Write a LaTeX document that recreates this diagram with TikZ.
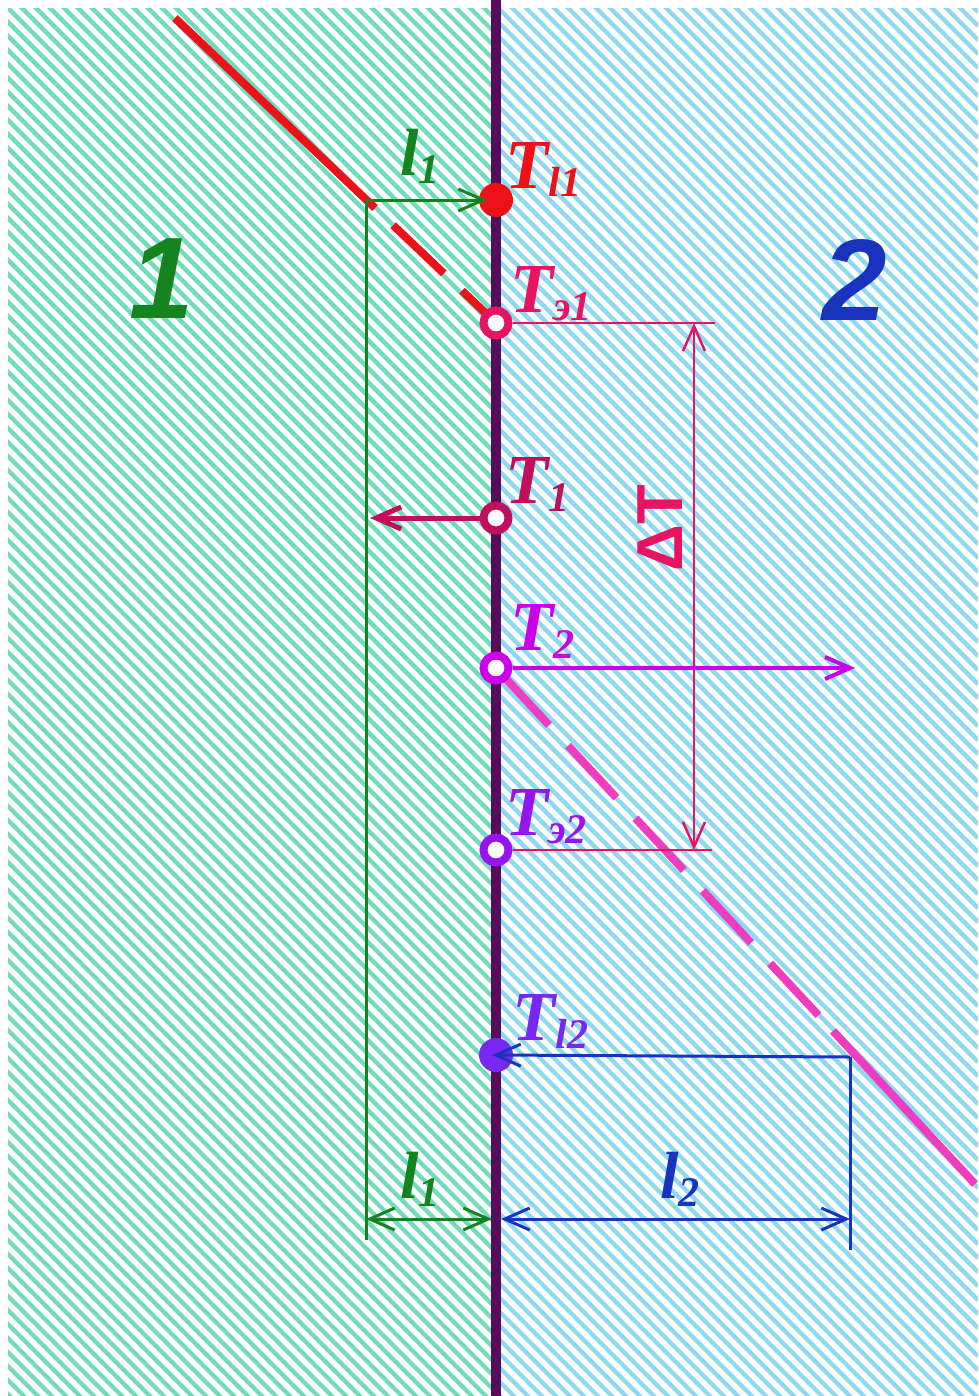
\documentclass[tikz,border=0pt]{standalone}
\usepackage{fontspec}
\setmainfont{Liberation Serif}
\newfontfamily\labsans{Liberation Sans}
\usetikzlibrary{arrows.meta}

\definecolor{hatchgreen}{RGB}{112,220,188}
\definecolor{hatchblue}{RGB}{142,216,242}
\definecolor{wallpurple}{RGB}{88,12,92}
\definecolor{tempred}{RGB}{236,18,24}
\definecolor{tempcrimson}{RGB}{232,20,98}
\definecolor{tempmaroon}{RGB}{192,16,92}
\definecolor{tempviolet}{RGB}{204,0,232}
\definecolor{tempindigo}{RGB}{150,20,238}
\definecolor{tempblue}{RGB}{120,40,240}
\definecolor{magline}{RGB}{240,60,190}
\definecolor{dimgreen}{RGB}{22,132,30}
\definecolor{dimblue}{RGB}{24,52,190}

\newcommand{\lsub}[1]{\raisebox{-0.12em}{\fontsize{24}{24}\selectfont #1}}

\pgfdeclarelayer{zones}
\pgfdeclarelayer{profiles}
\pgfsetlayers{zones,profiles,main}

\begin{document}
\begin{tikzpicture}[
    x=0.02cm, y=-0.02cm,
    >={Straight Barb[length=0.5cm,width=0.44cm]},
    hatch/.style={line width=0.085cm},
    wall/.style={wallpurple, line width=0.2cm},
    profile/.style={line width=0.16cm},
    dimline/.style={line width=0.06cm},
    thinline/.style={line width=0.05cm},
    heatflow/.style={line width=0.1cm},
    hollow/.style={circle, draw, fill=white, line width=0.16cm, minimum size=0.5cm, inner sep=0pt},
    spot/.style={circle, minimum size=0.68cm, inner sep=0pt},
    templab/.style={font=\fontsize{40}{40}\selectfont\bfseries\itshape, anchor=base west, inner sep=0pt},
    lenlab/.style={font=\fontsize{38}{38}\selectfont\bfseries\itshape, anchor=base west, inner sep=0pt},
    zonelab/.style={font=\labsans\fontsize{66}{66}\selectfont\bfseries\itshape, anchor=base, inner sep=0pt}
]
\useasboundingbox (0,0) rectangle (978,1396);

% two media
\begin{pgfonlayer}{zones}
\begin{scope}
  \clip (8,8) rectangle (496,1396);
  \foreach \k in {-36,...,100} \draw[hatch, hatchgreen] (0,14*\k) -- (496,496+14*\k);
\end{scope}
\begin{scope}
  \clip (496,8) rectangle (978,1396);
  \foreach \k in {-71,...,65} \draw[hatch, hatchblue] (496,496+14*\k) -- (978,978+14*\k);
\end{scope}
\coordinate (walltop) at (496,0);
\coordinate (wallbot) at (496,1396);
\draw[wall] (walltop) -- (wallbot);
\end{pgfonlayer}

% temperatures on the wall
\node[spot, fill=tempred] (tl1) at (496,200) {};
\node[hollow, draw=tempcrimson] (te1) at (496,323) {};
\node[hollow, draw=tempmaroon] (t1) at (496,518) {};
\node[hollow, draw=tempviolet] (t2) at (496,668) {};
\node[hollow, draw=tempindigo] (te2) at (496,850) {};
\node[spot, fill=tempblue] (tl2) at (496,1055) {};

\node[templab, tempred] (lab-tl1) at (505,188) {T\lsub{l1}};
\node[templab, tempcrimson] (lab-te1) at (510,312) {T\lsub{э1}};
\node[templab, tempmaroon] (lab-t1) at (505,503) {T\lsub{1}};
\node[templab, tempviolet] (lab-t2) at (510,650) {T\lsub{2}};
\node[templab, tempindigo] (lab-te2) at (505,835) {T\lsub{э2}};
\node[templab, tempblue] (lab-tl2) at (512,1040) {T\lsub{l2}};

\node[zonelab, dimgreen] (zone1) at (162,318) {1};
\node[zonelab, dimblue] (zone2) at (855,320) {2};
\node[font=\labsans\fontsize{37}{37}\selectfont\bfseries, tempcrimson, rotate=90, inner sep=0pt] (dT) at (660,528) {ΔT};

\node[lenlab, dimgreen] (lab-l1a) at (400,175) {l\lsub{1}};
\node[lenlab, dimgreen] (lab-l1b) at (400,1198) {l\lsub{1}};
\node[lenlab, dimblue] (lab-l2) at (660,1198) {l\lsub{2}};

\coordinate (c1) at (366,200);
\coordinate (c1low) at (366,1240);
\coordinate (b1) at (366,1219);
\coordinate (wl) at (492,1219);
\coordinate (wr) at (501,1219);
\coordinate (b2) at (850,1219);
\coordinate (c2) at (850,1057);
\coordinate (c2low) at (850,1250);
\coordinate (e1) at (715,323);
\coordinate (e2) at (712,850);
\coordinate (d1) at (694,323);
\coordinate (d2) at (694,850);
\coordinate (q1) at (370,518);
\coordinate (q2) at (855,668);
\coordinate (redtop) at (175,18);
\coordinate (redkink) at (375,208);
\coordinate (magkink) at (833,1031);
\coordinate (magend) at (975,1184);

% temperature profiles and levels
\begin{pgfonlayer}{profiles}
\draw[profile, tempred] (redtop) -- (redkink);
\draw[profile, tempred, dash pattern=on 1.4cm off 0.5cm, dash phase=1.4cm] (redkink) -- (te1.center);
\draw[profile, magline, dash pattern=on 1.42cm off 0.56cm, dash phase=1.84cm] (t2.center) -- (magkink);
\draw[profile, magline] (magkink) -- (magend);
\draw[thinline, tempcrimson] (te1) -- (e1);
\draw[thinline, tempcrimson] (te2) -- (e2);
\draw[thinline, tempcrimson, <->] (d1) -- (d2);
\draw[heatflow, tempmaroon, ->] (t1) -- (q1);
\draw[heatflow, tempviolet, line width=0.08cm, ->] (t2) -- (q2);
\draw[dimline, dimgreen] (c1) -- (c1low);
\draw[dimline, dimblue] (c2) -- (c2low);
\end{pgfonlayer}

% lengths
\draw[dimline, dimgreen, ->, shorten >=0.18cm] (c1) -- (tl1.center);
\draw[dimline, dimgreen, <->] (b1) -- (wl);
\draw[dimline, dimblue, ->, shorten >=-0.08cm] (c2) -- (tl2.center);
\draw[dimline, dimblue, <->] (wr) -- (b2);

\end{tikzpicture}
\end{document}
